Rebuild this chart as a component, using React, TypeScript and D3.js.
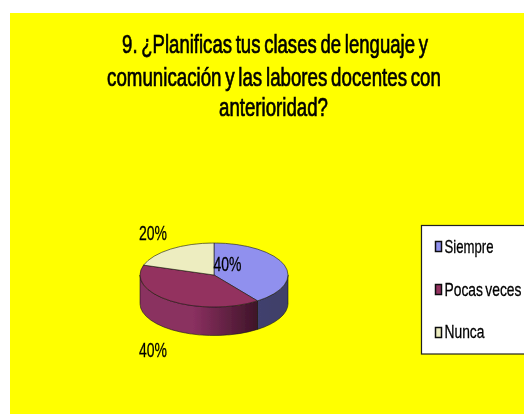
import React from "react";
import * as d3 from "d3";

const categories = ["Siempre", "Pocas veces", "Nunca"];
const values = [40, 40, 20];
const valueLabels = ["40%", "40%", "20%"];
const titleLines = [
  "9. ¿Planificas tus clases de lenguaje y",
  "comunicación y las labores docentes con",
  "anterioridad?",
];
const titleLayout = [
  { x: 275, y: 53, w: 306 },
  { x: 274, y: 86, w: 334 },
  { x: 273.5, y: 116, w: 109 },
];
const topColors = ["#9090EE", "#93305F", "#EDEDC0"];
const labelLayout = [
  { x: 227.5, y: 271 },
  { x: 153, y: 357 },
  { x: 153, y: 240 },
];
const legendLayout = [
  { y: 253, w: 49, sy: 241.5 },
  { y: 296, w: 77, sy: 284.5 },
  { y: 338, w: 40, sy: 327.5 },
];

const cx = 214;
const cy = 275;
const rx = 74;
const ry = 32;
const depth = 28.5;
const font = "'Liberation Sans', Arial, sans-serif";

const pieGen = d3.pie<number>().sort(null).startAngle(0).endAngle(2 * Math.PI);
const arcs = pieGen(values);
const arcGen = d3.arc<d3.PieArcDatum<number>>().innerRadius(0).outerRadius(rx);

const pt = (a: number, dy = 0) => [cx + rx * Math.sin(a), cy - ry * Math.cos(a) + dy];

function wallPath(a0: number, a1: number) {
  const s = Math.max(a0, Math.PI / 2);
  const e = Math.min(a1, (3 * Math.PI) / 2);
  if (e <= s) return null;
  const [x0, y0] = pt(s);
  const [x1, y1] = pt(e);
  return `M${x0},${y0}A${rx},${ry} 0 0 1 ${x1},${y1}L${x1},${y1 + depth}A${rx},${ry} 0 0 0 ${x0},${y0 + depth}Z`;
}

const measureCtx = document.createElement("canvas").getContext("2d")!;
function naturalWidth(content: string, size: number) {
  measureCtx.font = `${size}px ${font}`;
  (measureCtx as any).wordSpacing = "-2px";
  return measureCtx.measureText(content).width;
}

const stretched = (
  content: string,
  x: number,
  y: number,
  w: number,
  size: number,
  anchor: string,
  sw: number
) => (
  <text
    transform={`translate(${x},${y}) scale(${w / naturalWidth(content, size)},1)`}
    fontSize={size}
    fontFamily={font}
    textAnchor={anchor}
    fill="#000"
    stroke="#000"
    strokeWidth={sw}
    wordSpacing={-2}
  >
    {content}
  </text>
);

export default function App() {
  return (
    <svg
      width={524}
      height={414}
      style={{ position: "absolute", left: 0, top: 0, display: "block", background: "#fff" }}
    >
      <defs>
        <filter id="soft" x="-5%" y="-5%" width="110%" height="110%">
          <feGaussianBlur stdDeviation={0.45} />
        </filter>
        <linearGradient id="wall0" gradientUnits="userSpaceOnUse" x1={cx - rx} x2={cx + rx} y1={0} y2={0}>
          <stop offset="0" stopColor="#4A4A85" />
          <stop offset="1" stopColor="#3F3F68" />
        </linearGradient>
        <linearGradient id="wall1" gradientUnits="userSpaceOnUse" x1={cx - rx} x2={cx + 44} y1={0} y2={0}>
          <stop offset="0" stopColor="#8A3060" />
          <stop offset="0.45" stopColor="#8A3060" />
          <stop offset="1" stopColor="#3E1428" />
        </linearGradient>
        <linearGradient id="wall2" gradientUnits="userSpaceOnUse" x1={cx - rx} x2={cx + rx} y1={0} y2={0}>
          <stop offset="0" stopColor="#77775F" />
          <stop offset="1" stopColor="#77775F" />
        </linearGradient>
      </defs>
      <rect x={10} y={13} width={514} height={401} fill="#FFFF00" />
      <g filter="url(#soft)">
        {titleLines.map((t, i) => (
          <g key={t}>{stretched(t, titleLayout[i].x, titleLayout[i].y, titleLayout[i].w, 26, "middle", 0.7)}</g>
        ))}

        {arcs.map((d, i) => {
          const p = wallPath(d.startAngle, d.endAngle);
          return p ? <path key={i} d={p} fill={`url(#wall${i})`} stroke="#1a1a1a" strokeWidth={0.6} /> : null;
        })}
        <g transform={`translate(${cx},${cy}) scale(1,${ry / rx})`}>
          {arcs.map((d, i) => (
            <path
              key={i}
              d={arcGen(d) ?? ""}
              fill={topColors[i]}
              stroke="#1a1a1a"
              strokeWidth={0.6}
              vectorEffect="non-scaling-stroke"
            />
          ))}
        </g>

        {valueLabels.map((l, i) => (
          <g key={i}>{stretched(l, labelLayout[i].x, labelLayout[i].y, 28, 21, "middle", 0.3)}</g>
        ))}

        <rect x={421.5} y={225.5} width={104} height={128.5} fill="#fff" stroke="#222" strokeWidth={1.2} />
        {categories.map((c, i) => (
          <g key={c}>
            <rect x={435.5} y={legendLayout[i].sy} width={6} height={10} fill={topColors[i]} stroke="#111" strokeWidth={1.5} />
            {stretched(c, 444.5, legendLayout[i].y, legendLayout[i].w, 19, "start", 0.3)}
          </g>
        ))}
      </g>
    </svg>
  );
}
